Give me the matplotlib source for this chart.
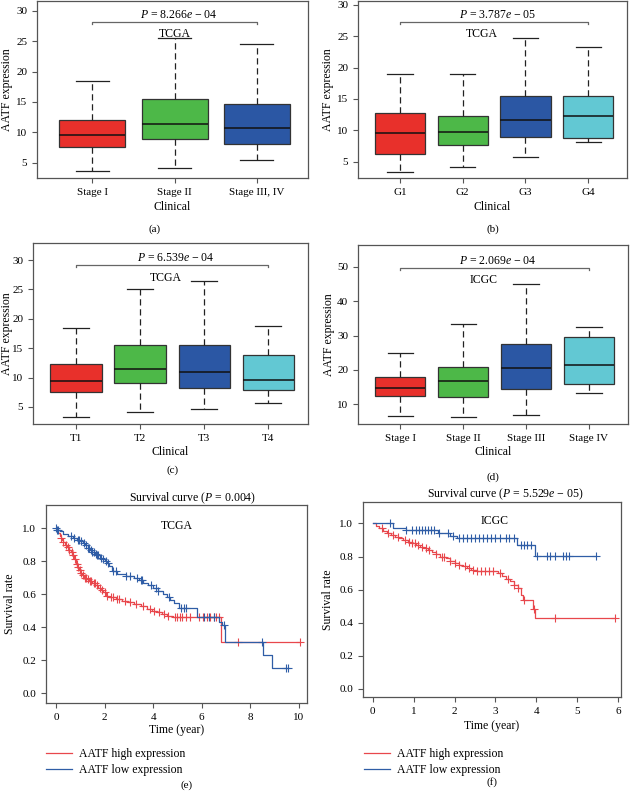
## Recreate AATF expression box plots (a-d) and survival curves (e-f)
import numpy as np
import matplotlib
matplotlib.use('Agg')
import matplotlib.pyplot as plt

plt.rcParams['font.family'] = ['Liberation Serif', 'DejaVu Serif']
plt.rcParams['mathtext.fontset'] = 'custom'
plt.rcParams['mathtext.rm'] = 'Liberation Serif'
plt.rcParams['mathtext.it'] = 'Liberation Serif:italic'
plt.rcParams['font.size'] = 8

## Box plot data: low whisker, Q1, median, Q3, high whisker
labels_a = ['Stage I', 'Stage II', 'Stage III, IV']
stats_a = [[3.6, 7.6, 9.5, 12.1, 18.4],
           [4.2, 8.9, 11.4, 15.5, 25.5],
           [5.4, 8.1, 10.7, 14.7, 24.6]]

labels_b = ['G1', 'G2', 'G3', 'G4']
stats_b = [[3.3, 6.3, 9.6, 12.7, 18.9],
           [4.2, 7.6, 9.7, 12.3, 18.9],
           [5.8, 8.9, 11.6, 15.5, 24.7],
           [8.2, 8.8, 12.2, 15.4, 23.2]]

labels_c = ['T1', 'T2', 'T3', 'T4']
stats_c = [[3.3, 7.6, 9.5, 12.3, 18.4],
           [4.2, 9.0, 11.4, 15.6, 25.0],
           [4.6, 8.2, 10.9, 15.5, 26.4],
           [5.7, 7.9, 9.6, 13.8, 18.8]]

labels_d = ['Stage I', 'Stage II', 'Stage III', 'Stage IV']
stats_d = [[6.6, 12.3, 14.6, 17.9, 25.0],
           [6.1, 12.1, 16.7, 20.8, 33.5],
           [6.7, 14.3, 20.4, 27.5, 45.1],
           [13.2, 15.9, 21.4, 29.6, 32.5]]

p_a = r'$P$ = 8.266$e$ − 04'
p_b = r'$P$ = 3.787$e$ − 05'
p_c = r'$P$ = 6.539$e$ − 04'
p_d = r'$P$ = 2.069$e$ − 04'

## Survival data: step times / survival after step, end of follow-up, censor times
tcga_high_t = [0, 0.05, 0.1, 0.15, 0.2, 0.25, 0.3, 0.38, 0.45, 0.52, 0.6, 0.68, 0.75,
               0.82, 0.88, 0.95, 1.0, 1.08, 1.15, 1.25, 1.35, 1.5, 1.62, 1.75, 1.85,
               1.95, 2.05, 2.2, 2.45, 2.7, 2.95, 3.2, 3.5, 3.75, 3.95, 4.15, 4.35,
               4.55, 4.8, 6.78]
tcga_high_s = [1.0, 0.99, 0.97, 0.955, 0.94, 0.93, 0.915, 0.90, 0.885, 0.87, 0.855,
               0.835, 0.81, 0.785, 0.765, 0.745, 0.73, 0.715, 0.70, 0.69, 0.68, 0.67,
               0.655, 0.64, 0.625, 0.61, 0.59, 0.58, 0.57, 0.56, 0.55, 0.54, 0.525,
               0.51, 0.50, 0.49, 0.48, 0.47, 0.463, 0.31]
tcga_high_end = 10.05
tcga_high_cens = [0.2, 0.3, 0.4, 0.5, 0.55, 0.65, 0.7, 0.8, 0.85, 0.9, 0.97, 1.03,
                  1.1, 1.18, 1.22, 1.3, 1.4, 1.45, 1.55, 1.6, 1.7, 1.8, 1.9, 2.0,
                  2.1, 2.25, 2.35, 2.5, 2.6, 2.85, 3.05, 3.3, 3.6, 3.85, 4.05, 4.25,
                  4.45, 4.6, 4.9, 5.0, 5.1, 5.2, 5.35, 5.5, 5.9, 6.05, 6.2, 6.35,
                  6.5, 6.6, 6.7, 7.48, 10.05]

tcga_low_t = [0, 0.05, 0.15, 0.3, 0.5, 0.7, 0.85, 1.0, 1.1, 1.2, 1.3, 1.4, 1.5, 1.6,
              1.7, 1.8, 1.9, 2.0, 2.1, 2.2, 2.3, 2.5, 2.9, 3.2, 3.4, 3.6, 3.8, 4.0,
              4.2, 4.4, 4.55, 4.7, 4.85, 5.05, 5.8, 6.72, 6.85, 6.95, 8.52, 8.9]
tcga_low_s = [1.0, 0.99, 0.98, 0.965, 0.95, 0.94, 0.93, 0.92, 0.91, 0.895, 0.88, 0.87,
              0.855, 0.845, 0.835, 0.82, 0.81, 0.80, 0.79, 0.77, 0.74, 0.72, 0.71,
              0.70, 0.685, 0.67, 0.655, 0.64, 0.62, 0.60, 0.585, 0.565, 0.547, 0.517,
              0.463, 0.43, 0.41, 0.31, 0.23, 0.155]
tcga_low_end = 9.55
tcga_low_cens = [0.02, 0.06, 0.1, 0.6, 0.75, 0.9, 0.95, 1.05, 1.15, 1.25, 1.3, 1.35,
                 1.45, 1.5, 1.55, 1.65, 1.7, 1.75, 1.85, 1.95, 2.05, 2.15, 2.35, 2.45,
                 2.9, 3.05, 3.35, 3.5, 3.55, 3.9, 4.1, 4.2, 4.65, 5.15, 5.25, 5.35,
                 6.1, 6.3, 6.5, 6.9, 8.48, 9.45, 9.55]

icgc_high_t = [0, 0.08, 0.16, 0.25, 0.35, 0.45, 0.55, 0.65, 0.75, 0.85, 0.95, 1.05,
               1.15, 1.25, 1.35, 1.45, 1.55, 1.65, 1.8, 1.9, 2.0, 2.1, 2.2, 2.3, 2.4,
               2.55, 3.05, 3.15, 3.25, 3.35, 3.45, 3.55, 3.62, 3.68, 3.92, 3.96]
icgc_high_s = [1.0, 0.985, 0.97, 0.955, 0.94, 0.93, 0.92, 0.91, 0.90, 0.89, 0.88,
               0.87, 0.86, 0.85, 0.84, 0.83, 0.815, 0.80, 0.79, 0.775, 0.76, 0.75,
               0.74, 0.73, 0.72, 0.71, 0.70, 0.68, 0.665, 0.65, 0.63, 0.61, 0.57,
               0.54, 0.48, 0.43]
icgc_high_end = 5.93
icgc_high_cens = [0.22, 0.38, 0.5, 0.62, 0.78, 0.88, 0.95, 1.02, 1.1, 1.2, 1.3, 1.38,
                  1.55, 1.7, 1.75, 1.9, 2.0, 2.1, 2.25, 2.35, 2.45, 2.55, 2.65, 2.75,
                  2.85, 2.95, 3.1, 3.3, 3.45, 3.55, 3.7, 3.95, 4.45, 5.93]

icgc_low_t = [0, 0.5, 0.8, 1.6, 1.9, 2.05, 3.52, 3.97]
icgc_low_s = [1.0, 0.97, 0.96, 0.94, 0.925, 0.913, 0.87, 0.805]
icgc_low_end = 5.45
icgc_low_cens = [0.42, 0.82, 0.95, 1.05, 1.12, 1.2, 1.28, 1.35, 1.42, 1.5, 1.62,
                 1.85, 1.95, 2.1, 2.2, 2.3, 2.4, 2.5, 2.6, 2.7, 2.8, 2.9, 3.0, 3.1,
                 3.25, 3.32, 3.45, 3.62, 3.7, 3.78, 3.86, 4.02, 4.25, 4.33, 4.45,
                 4.65, 4.72, 4.8, 5.45]

box_colors = ['#E8302B', '#4DB848', '#2B57A4', '#62C8D3']
km_red = '#E8474C'
km_blue = '#2F5DA6'
frame_color = '#555555'

W, H = 630, 792


def rect(x0, y0, x1, y1):
    # pixel box -> figure fraction
    return [x0 / W, 1 - y1 / H, (x1 - x0) / W, (y1 - y0) / H]


def style_frame(ax):
    for s in ax.spines.values():
        s.set_color(frame_color)
        s.set_linewidth(0.9)
    ax.tick_params(direction='out', length=3.5, width=0.8, color=frame_color,
                   labelsize=8, top=False, right=False)


def box_panel(ax, labels, stats, ylim, yticks, ptext, bracket_y, cohort, cohort_xy,
              ylab_x, xlab_y):
    bx = []
    for lab, (lo, q1, med, q3, hi) in zip(labels, stats):
        bx.append(dict(label=lab, whislo=lo, q1=q1, med=med, q3=q3, whishi=hi))
    pos = np.arange(1, len(labels) + 1)
    art = ax.bxp(bx, positions=pos, widths=0.8, patch_artist=True, showfliers=False,
                 capwidths=0.4,
                 boxprops=dict(edgecolor='#333333', linewidth=0.9),
                 medianprops=dict(color='#111111', linewidth=1.1),
                 whiskerprops=dict(color='#222222', linestyle=(0, (5, 3)), linewidth=0.9),
                 capprops=dict(color='#222222', linewidth=0.9))
    for patch, c in zip(art['boxes'], box_colors):
        patch.set_facecolor(c)
    ax.set_xlim(0.33, len(labels) + 0.62)
    ax.set_ylim(*ylim)
    ax.set_yticks(yticks)
    style_frame(ax)
    # significance bracket
    rng = ylim[1] - ylim[0]
    drop = rng * 0.012
    ax.plot([1, 1, pos[-1], pos[-1]], [bracket_y - drop, bracket_y, bracket_y, bracket_y - drop],
            color='#666666', linewidth=0.9)
    ax.text((1 + pos[-1]) / 2 + 0.05, bracket_y + rng * 0.005, ptext,
            ha='center', va='bottom', fontsize=8.5)
    ax.text(cohort_xy[0], cohort_xy[1], cohort, ha='center', va='center', fontsize=8.5)
    ax.set_ylabel('AATF expression', fontsize=8.5, va='center')
    ax.yaxis.set_label_coords(ylab_x, 0.5)
    ax.set_xlabel('Clinical', fontsize=8.5, va='center')
    ax.xaxis.set_label_coords(0.5, xlab_y)


def km_line(ax, times, surv, end, cens, color, label):
    t = np.append(times, end)
    s = np.append(surv, surv[-1])
    ax.step(t, s, where='post', color=color, linewidth=0.9, label=label)
    idx = np.searchsorted(times, cens, side='right') - 1
    ax.plot(cens, np.array(surv)[idx], linestyle='none', marker='+', markersize=6,
            markeredgewidth=0.8, color=color)


def km_panel(ax, title, title_xy, cohort, cohort_xy, xlim, ylim, xticks, ylab_x, xlab_y,
             high, low):
    km_line(ax, *high, km_red, 'AATF high expression')
    km_line(ax, *low, km_blue, 'AATF low expression')
    ax.set_xlim(*xlim)
    ax.set_ylim(*ylim)
    ax.set_xticks(xticks)
    ax.set_yticks(np.arange(0, 1.01, 0.2))
    ax.set_yticklabels(['{:.1f}'.format(v) for v in np.arange(0, 1.01, 0.2)])
    style_frame(ax)
    ax.text(title_xy[0], title_xy[1], title, transform=ax.transAxes, ha='center',
            va='center', fontsize=8.5)
    ax.text(cohort_xy[0], cohort_xy[1], cohort, transform=ax.transAxes, ha='center',
            va='center', fontsize=8.5)
    ax.set_ylabel('Survival rate', fontsize=8.5, va='center')
    ax.yaxis.set_label_coords(ylab_x, 0.5)
    ax.set_xlabel('Time (year)', fontsize=8.5, va='center')
    ax.xaxis.set_label_coords(0.5, xlab_y)


fig = plt.figure(figsize=(W / 100, H / 100), dpi=100)

ax_a = fig.add_axes(rect(37, 1, 308, 178))
box_panel(ax_a, labels_a, stats_a, (2.5, 31.6), [5, 10, 15, 20, 25, 30], p_a, 28.2,
          'TCGA', (2.0, 26.2), -0.111, -0.164)

ax_b = fig.add_axes(rect(358, 1, 627, 178))
box_panel(ax_b, labels_b, stats_b, (2.4, 30.6), [5, 10, 15, 20, 25, 30], p_b, 27.3,
          'TCGA', (2.3, 25.4), -0.11, -0.164)

ax_c = fig.add_axes(rect(33, 243, 308, 424))
box_panel(ax_c, labels_c, stats_c, (2.1, 32.9), [5, 10, 15, 20, 25, 30], p_c, 29.2,
          'TCGA', (2.4, 27.0), -0.095, -0.155)

ax_d = fig.add_axes(rect(358, 245, 628, 424))
box_panel(ax_d, labels_d, stats_d, (4.2, 56.4), [10, 20, 30, 40, 50], p_d, 49.7,
          'ICGC', (2.32, 46.3), -0.107, -0.156)

ax_e = fig.add_axes(rect(46, 505, 307, 703))
km_panel(ax_e, r'Survival curve ($P$ = 0.004)', (0.56, 1.035), 'TCGA', (0.50, 0.895),
         (-0.41, 10.33), (-0.06, 1.14), [0, 2, 4, 6, 8, 10], -0.138, -0.136,
         (tcga_high_t, tcga_high_s, tcga_high_end, tcga_high_cens),
         (tcga_low_t, tcga_low_s, tcga_low_end, tcga_low_cens))
ax_e.legend(loc='upper left', bbox_to_anchor=(40 / W, 1 - 742 / H),
            bbox_transform=fig.transFigure, frameon=False, fontsize=8.5,
            handlelength=2.2, handletextpad=0.6, labelspacing=0.35, borderpad=0)

ax_f = fig.add_axes(rect(363, 502, 621, 697))
km_panel(ax_f, r'Survival curve ($P$ = 5.529$e$ − 05)', (0.55, 1.041), 'ICGC', (0.51, 0.90),
         (-0.24, 6.07), (-0.05, 1.13), [0, 1, 2, 3, 4, 5, 6], -0.136, -0.149,
         (icgc_high_t, icgc_high_s, icgc_high_end, icgc_high_cens),
         (icgc_low_t, icgc_low_s, icgc_low_end, icgc_low_cens))
ax_f.legend(loc='upper left', bbox_to_anchor=(358 / W, 1 - 742 / H),
            bbox_transform=fig.transFigure, frameon=False, fontsize=8.5,
            handlelength=2.2, handletextpad=0.6, labelspacing=0.35, borderpad=0)

# panel letters
for lab, x, y in [('(a)', 155, 229), ('(b)', 493, 229), ('(c)', 173, 470),
                  ('(d)', 493, 477), ('(e)', 187, 785), ('(f)', 492, 782)]:
    fig.text(x / W, 1 - y / H, lab, ha='center', va='center', fontsize=8)

fig.savefig('out.png', dpi=100)
